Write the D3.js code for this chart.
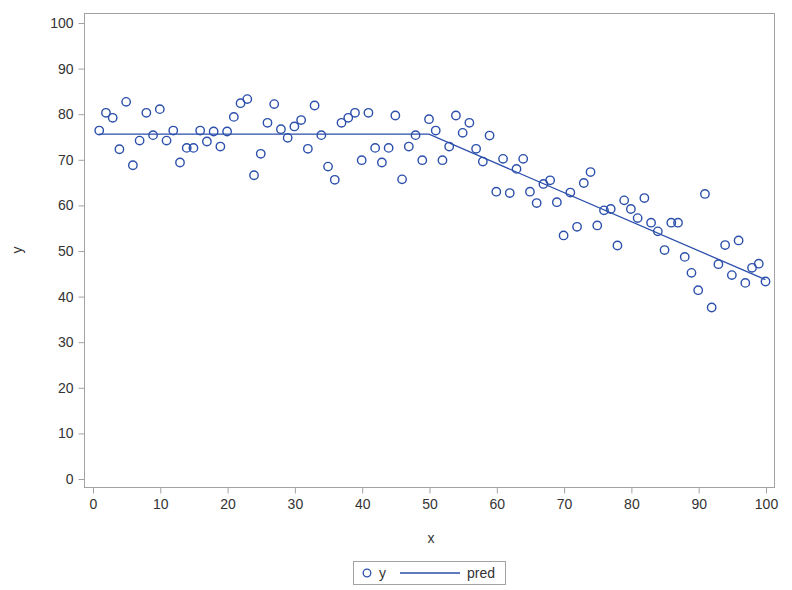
<!DOCTYPE html>
<html>
<head>
<meta charset="utf-8">
<script src="https://cdn.jsdelivr.net/npm/d3@7"></script>
<style>
  html, body { margin: 0; padding: 0; background: #fff; }
  svg { display: block; }
  text { font-family: "Liberation Sans", Arial, sans-serif; }
</style>
</head>
<body>
<svg id="chart" width="792" height="590"></svg>
<script>
// ---- data ----
const xValues = [
  1,2,3,4,5,6,7,8,9,10,11,12,13,14,15,16,17,18,19,20,
  21,22,23,24,25,26,27,28,29,30,31,32,33,34,35,36,37,38,39,40,
  41,42,43,44,45,46,47,48,49,50,51,52,53,54,55,56,57,58,59,60,
  61,62,63,64,65,66,67,68,69,70,71,72,73,74,75,76,77,78,79,80,
  81,82,83,84,85,86,87,88,89,90,91,92,93,94,95,96,97,98,99,100
];
const yValues = [
  76.3,80.2,79.1,72.2,82.6,68.7,74.1,80.2,75.3,81.0,
  74.1,76.3,69.3,72.5,72.5,76.3,73.9,76.1,72.8,76.1,
  79.3,82.3,83.2,66.5,71.2,78.0,82.1,76.6,74.7,77.2,
  78.6,72.3,81.8,75.3,68.4,65.5,78.0,79.1,80.2,69.8,
  80.2,72.5,69.3,72.5,79.6,65.6,72.8,75.3,69.8,78.8,
  76.3,69.8,72.8,79.6,75.8,78.0,72.3,69.5,75.2,62.9,
  70.1,62.6,67.9,70.1,62.9,60.4,64.6,65.4,60.6,53.3,
  62.7,55.2,64.8,67.2,55.5,58.8,59.1,51.1,61.0,59.1,
  57.1,61.5,56.1,54.2,50.1,56.1,56.1,48.6,45.1,41.3,
  62.4,37.5,47.0,51.2,44.6,52.2,42.9,46.2,47.1,43.2
];
const predX = [1, 50, 100];
const predY = [75.5, 75.5, 43.6];
const xTicks = [0,10,20,30,40,50,60,70,80,90,100];
const yTicks = [0,10,20,30,40,50,60,70,80,90,100];
const seriesNames = ["y", "pred"];

// ---- layout ----
const frame = { left: 84, top: 13, right: 774, bottom: 487 };
const blue = "#2b4fab";
const axisGray = "#a3a3a3";
const textColor = "#333333";
const fs = "14px";

const svg = d3.select("#chart");

const x = d3.scaleLinear().domain([0, 100]).range([92.5, 765.5]);
const y = d3.scaleLinear().domain([0, 100]).range([478.5, 22.5]);

// frame
svg.append("rect")
  .attr("x", frame.left + 0.5).attr("y", frame.top + 0.5)
  .attr("width", frame.right - frame.left).attr("height", frame.bottom - frame.top)
  .attr("fill", "none").attr("stroke", axisGray).attr("stroke-width", 1);

// x axis
const xAxis = d3.axisBottom(x).tickValues(xTicks).tickSize(6).tickPadding(6).tickFormat(d3.format("d"));
const gx = svg.append("g").attr("transform", `translate(0.5,${frame.bottom + 0.5})`).call(xAxis);
gx.select(".domain").remove();
gx.selectAll(".tick line").attr("stroke", axisGray);
gx.selectAll(".tick text").attr("fill", textColor).style("font-size", fs);

// y axis
const yAxis = d3.axisLeft(y).tickValues(yTicks).tickSize(6).tickPadding(5).tickFormat(d3.format("d"));
const gy = svg.append("g").attr("transform", `translate(${frame.left + 0.5},0.5)`).call(yAxis);
gy.select(".domain").remove();
gy.selectAll(".tick line").attr("stroke", axisGray);
gy.selectAll(".tick text").attr("fill", textColor).style("font-size", fs);

// axis titles
svg.append("text").attr("x", (frame.left + frame.right) / 2 + 2).attr("y", 543)
  .attr("text-anchor", "middle").attr("fill", textColor).style("font-size", fs).text("x");
svg.append("text").attr("transform", `translate(22,${(frame.top + frame.bottom) / 2}) rotate(-90)`)
  .attr("text-anchor", "middle").attr("fill", textColor).style("font-size", fs).text("y");

// pred line
const predData = predX.map((d, i) => [d, predY[i]]);
svg.append("path").datum(predData)
  .attr("d", d3.line().x(d => x(d[0])).y(d => y(d[1])))
  .attr("fill", "none").attr("stroke", blue).attr("stroke-width", 1.3);

// scatter
const pts = xValues.map((d, i) => [d, yValues[i]]);
svg.append("g").selectAll("circle").data(pts).join("circle")
  .attr("cx", d => x(d[0])).attr("cy", d => y(d[1])).attr("r", 4.2)
  .attr("fill", "none").attr("stroke", blue).attr("stroke-width", 1.4);

// legend
const lg = svg.append("g");
lg.append("rect").attr("x", 353.5).attr("y", 561.5).attr("width", 152).attr("height", 23)
  .attr("fill", "#fff").attr("stroke", axisGray);
lg.append("circle").attr("cx", 367).attr("cy", 573).attr("r", 3.8)
  .attr("fill", "none").attr("stroke", blue).attr("stroke-width", 1.3);
lg.append("text").attr("x", 379).attr("y", 578).attr("fill", textColor).style("font-size", fs).text(seriesNames[0]);
lg.append("line").attr("x1", 400).attr("x2", 460).attr("y1", 573).attr("y2", 573)
  .attr("stroke", blue).attr("stroke-width", 1.3);
lg.append("text").attr("x", 467).attr("y", 578).attr("fill", textColor).style("font-size", fs).text(seriesNames[1]);
</script>
</body>
</html>
